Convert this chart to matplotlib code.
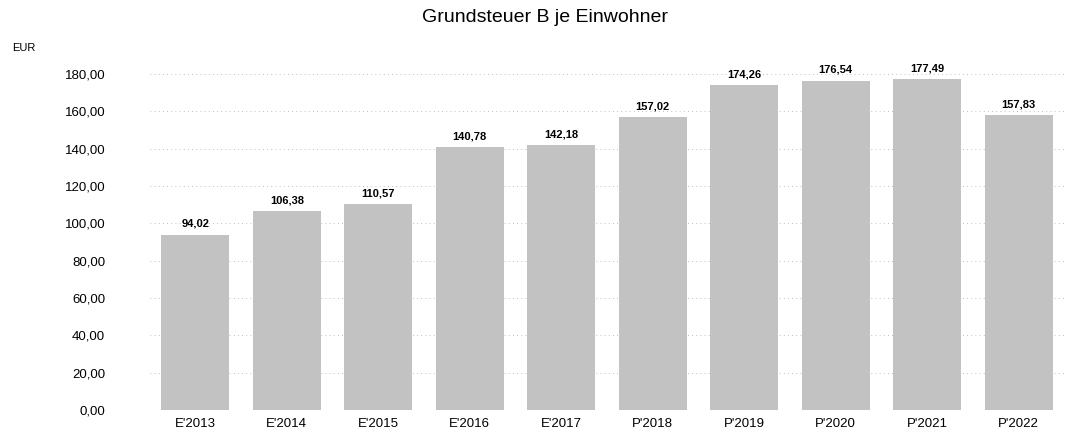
import matplotlib.pyplot as plt
import numpy as np

# --- Data ---
years = ["E'2013", "E'2014", "E'2015", "E'2016", "E'2017",
         "P'2018", "P'2019", "P'2020", "P'2021", "P'2022"]
values = [94.02, 106.38, 110.57, 140.78, 142.18,
          157.02, 174.26, 176.54, 177.49, 157.83]
yticks = [0, 20, 40, 60, 80, 100, 120, 140, 160, 180]

plt.rcParams['font.family'] = ['Liberation Sans', 'DejaVu Sans']

fig = plt.figure(figsize=(10.84, 4.32), dpi=100)
ax = fig.add_axes([0.138, 0.051, 0.844, 0.799])

x = np.arange(len(years))
ax.bar(x, values, width=0.74, color='#c2c2c2', edgecolor='none', zorder=2)

# value labels above bars
for xi, v in zip(x, values):
    ax.text(xi, v + 3, f"{v:.2f}".replace('.', ','), ha='center', va='bottom',
            fontsize=8, fontweight='bold', zorder=3)

ax.set_xlim(-0.5, len(years) - 0.5)
ax.set_ylim(0, 185)
ax.set_yticks(yticks)
ax.set_yticklabels([f"{t:.2f}".replace('.', ',') for t in yticks], fontsize=9.5)
ax.set_xticks(x)
ax.set_xticklabels(years, fontsize=9.5)
ax.tick_params(length=0, pad=6)
ax.tick_params(axis='y', pad=32)
ax.grid(axis='y', color='#aaaaaa', linestyle=(0, (1, 4)), linewidth=0.6, zorder=0)
for s in ax.spines.values():
    s.set_visible(False)

fig.text(0.503, 0.96, "Grundsteuer B je Einwohner", ha='center', va='center', fontsize=14)
fig.text(0.011, 0.89, "EUR", ha='left', va='center', fontsize=8)

fig.savefig('out.png', dpi=100)
